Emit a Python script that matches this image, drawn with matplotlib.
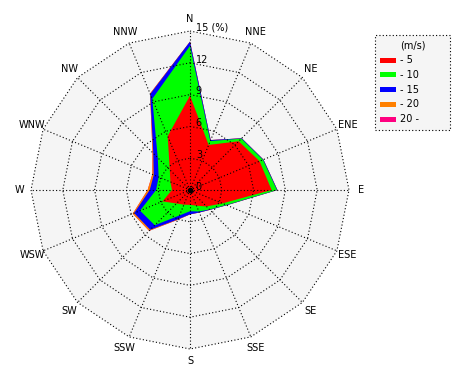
import numpy as np
import matplotlib
matplotlib.use('Agg')
import matplotlib.pyplot as plt
from matplotlib.patches import Polygon, Rectangle

# wind directions, clockwise from north
directions = ['N', 'NNE', 'NE', 'ENE', 'E', 'ESE', 'SE', 'SSE',
              'S', 'SSW', 'SW', 'WSW', 'W', 'WNW', 'NW', 'NNW']

# frequency (%) per speed class
speed_5 = [8.9, 4.6, 6.5, 7.1, 7.7, 3.3, 2.2, 1.6, 1.4, 1.5, 1.8, 2.8, 1.7, 2.0, 2.7, 5.5]
speed_10 = [4.7, 0.4, 0.35, 0.35, 0.5, 0.4, 0.4, 0.6, 0.6, 1.1, 2.9, 2.3, 1.5, 1.2, 1.6, 3.8]
speed_15 = [0.4, 0.1, 0.05, 0.05, 0.05, 0.05, 0.05, 0.1, 0.3, 0.4, 0.6, 0.6, 0.6, 0.5, 0.6, 0.5]
speed_20 = [0, 0, 0, 0, 0, 0, 0, 0, 0, 0.05, 0.15, 0.15, 0.2, 0.15, 0.1, 0.05]
speed_20p = [0] * 16

class_labels = ['- 5', '- 10', '- 15', '- 20', '20 -']
class_colors = ['#ff0000', '#00ff00', '#0000ff', '#ff8000', '#ff0080']
ring_values = [3, 6, 9, 12, 15]

# pixel geometry: centre at (190, 190), 15 % -> 159 px
scale = 159 / 15.0
fig = plt.figure(figsize=(4.7, 3.8), dpi=100)
ax = fig.add_axes([0, 0, 1, 1])
ax.set_xlim(-190 / scale, 280 / scale)
ax.set_ylim(-190 / scale, 190 / scale)
ax.axis('off')

def px(x, y):
    # pixel position (from top-left) -> data units
    return (x - 190) / scale, (190 - y) / scale

theta = np.deg2rad(np.arange(16) * 22.5)
sx, sy = np.sin(theta), np.cos(theta)

def ring(r):
    return np.column_stack([r * sx, r * sy])

# background
ax.add_patch(Polygon(ring(15), closed=True, facecolor='#f5f5f5', edgecolor='none', zorder=0))

# stacked polygons, largest first
data = np.array([speed_5, speed_10, speed_15, speed_20, speed_20p])
cum = np.cumsum(data, axis=0)
for k in range(len(cum) - 1, -1, -1):
    ax.add_patch(Polygon(ring(cum[k]), closed=True, facecolor=class_colors[k],
                         edgecolor='none', zorder=1))

# grid
dots = (0, (1, 2))
for rv in ring_values:
    pts = ring(rv)
    pts = np.vstack([pts, pts[:1]])
    ax.plot(pts[:, 0], pts[:, 1], color='black', lw=0.8, ls=dots, zorder=2)
for i in range(16):
    ax.plot([0, 15 * sx[i]], [0, 15 * sy[i]], color='black', lw=0.8, ls=dots, zorder=2)
ax.plot(0, 0, 'o', color='black', ms=3, zorder=3)

font = dict(family='DejaVu Sans', fontsize=7)
# ring labels
ax.text(0.55, 0.25, '0', ha='left', va='center', zorder=3, **font)
for rv in ring_values:
    lab = '%d' % rv if rv != 15 else '15 (%)'
    ax.text(0.55, rv + 0.3, lab, ha='left', va='center', zorder=3, **font)

# direction labels
lab_r = 16.1
for i, d in enumerate(directions):
    ax.text(lab_r * sx[i], lab_r * sy[i], d, ha='center', va='center', **font)

# legend box (drawn by hand)
x0, y0 = px(375, 130)
x1, y1 = px(450, 35)
ax.add_patch(Rectangle((x0, y0), x1 - x0, y1 - y0, facecolor='#f5f5f5',
                       edgecolor='black', lw=0.8, ls=dots, zorder=4))
tx, ty = px(413, 45)
ax.text(tx, ty, '(m/s)', ha='center', va='center', zorder=5, **font)
for j, (lab, col) in enumerate(zip(class_labels, class_colors)):
    yc = 60 + j * 14.8
    bx, by = px(380, yc + 2.5)
    ax.add_patch(Rectangle((bx, by), 16 / scale, 5 / scale, facecolor=col,
                           edgecolor='none', zorder=5))
    lx, ly = px(400, yc)
    ax.text(lx, ly, lab, ha='left', va='center', zorder=5, **font)

fig.savefig('out.png', dpi=100)
